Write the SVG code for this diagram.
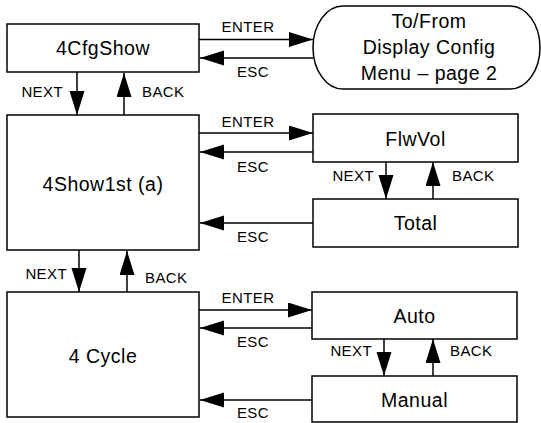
<svg xmlns="http://www.w3.org/2000/svg" width="541" height="423" viewBox="0 0 541 423">
<defs>
<marker id="ah" markerUnits="userSpaceOnUse" markerWidth="25" markerHeight="16" refX="24" refY="7.5" orient="auto">
<path d="M0,0 L24,7.5 L0,15 Z" fill="#000"/>
</marker>
<style>
.box{fill:#fff;stroke:#000;stroke-width:1.5}
.nt{font-family:"Liberation Sans",Arial,sans-serif;font-size:19.5px;letter-spacing:0.5px;text-anchor:middle;fill:#000}
.lb{font-family:"Liberation Sans",Arial,sans-serif;font-size:15px;letter-spacing:0.4px;fill:#000}
.c{text-anchor:middle}
.r{text-anchor:end}
.cn{stroke:#000;stroke-width:1.5;fill:none;marker-end:url(#ah)}
</style>
</defs>
<rect width="541" height="423" fill="#fff"/>
<g id="n-4cfgshow"><rect class="box" x="7" y="24" width="192" height="48"/><text class="nt" x="103" y="55">4CfgShow</text></g>
<g id="n-tofrom"><path class="box" d="M343,6 H510 A30,41.5 0 0 1 510,89 H343 A30,41.5 0 0 1 343,6 Z"/>
<text class="nt" x="429" y="28">To/From</text><text class="nt" x="429" y="54">Display Config</text><text class="nt" x="429" y="80">Menu – page 2</text></g>
<g id="n-4show1st"><rect class="box" x="7" y="115" width="192" height="135"/><text class="nt" x="103" y="191">4Show1st (a)</text></g>
<g id="n-flwvol"><rect class="box" x="313" y="114" width="205" height="48"/><text class="nt" x="415.5" y="146">FlwVol</text></g>
<g id="n-total"><rect class="box" x="313" y="199" width="205" height="48"/><text class="nt" x="415.5" y="230">Total</text></g>
<g id="n-4cycle"><rect class="box" x="7" y="292" width="192" height="125"/><text class="nt" x="103" y="363">4 Cycle</text></g>
<g id="n-auto"><rect class="box" x="312" y="292" width="205" height="47"/><text class="nt" x="414.5" y="323">Auto</text></g>
<g id="n-manual"><rect class="box" x="312" y="376" width="205" height="46"/><text class="nt" x="414.5" y="407">Manual</text></g>
<g id="connectors">
<line class="cn" x1="199" y1="39.5" x2="313" y2="39.5"/>
<line class="cn" x1="313" y1="58" x2="200" y2="58"/>
<line class="cn" x1="77" y1="72" x2="77" y2="115"/>
<line class="cn" x1="124" y1="115" x2="124" y2="73"/>
<line class="cn" x1="199" y1="133" x2="313" y2="133"/>
<line class="cn" x1="313" y1="152" x2="200" y2="152"/>
<line class="cn" x1="313" y1="223" x2="200" y2="223"/>
<line class="cn" x1="386" y1="162" x2="386" y2="199"/>
<line class="cn" x1="433" y1="199" x2="433" y2="162"/>
<line class="cn" x1="79" y1="250" x2="79" y2="292"/>
<line class="cn" x1="127" y1="292" x2="127" y2="251"/>
<line class="cn" x1="199" y1="310" x2="312" y2="310"/>
<line class="cn" x1="312" y1="328" x2="200" y2="328"/>
<line class="cn" x1="312" y1="400" x2="200" y2="400"/>
<line class="cn" x1="384" y1="339" x2="384" y2="376"/>
<line class="cn" x1="433" y1="376" x2="433" y2="339"/>
<text class="lb c" x="248" y="32">ENTER</text>
<text class="lb c" x="253" y="77">ESC</text>
<text class="lb r" x="63" y="97">NEXT</text>
<text class="lb" x="142" y="97">BACK</text>
<text class="lb c" x="248" y="127">ENTER</text>
<text class="lb c" x="253" y="172">ESC</text>
<text class="lb c" x="253" y="242">ESC</text>
<text class="lb r" x="374" y="181">NEXT</text>
<text class="lb" x="452" y="181">BACK</text>
<text class="lb r" x="67" y="279">NEXT</text>
<text class="lb" x="145" y="283">BACK</text>
<text class="lb c" x="248" y="303">ENTER</text>
<text class="lb c" x="253" y="347">ESC</text>
<text class="lb c" x="253" y="418">ESC</text>
<text class="lb r" x="372" y="356">NEXT</text>
<text class="lb" x="450" y="356">BACK</text>
</g>
</svg>
